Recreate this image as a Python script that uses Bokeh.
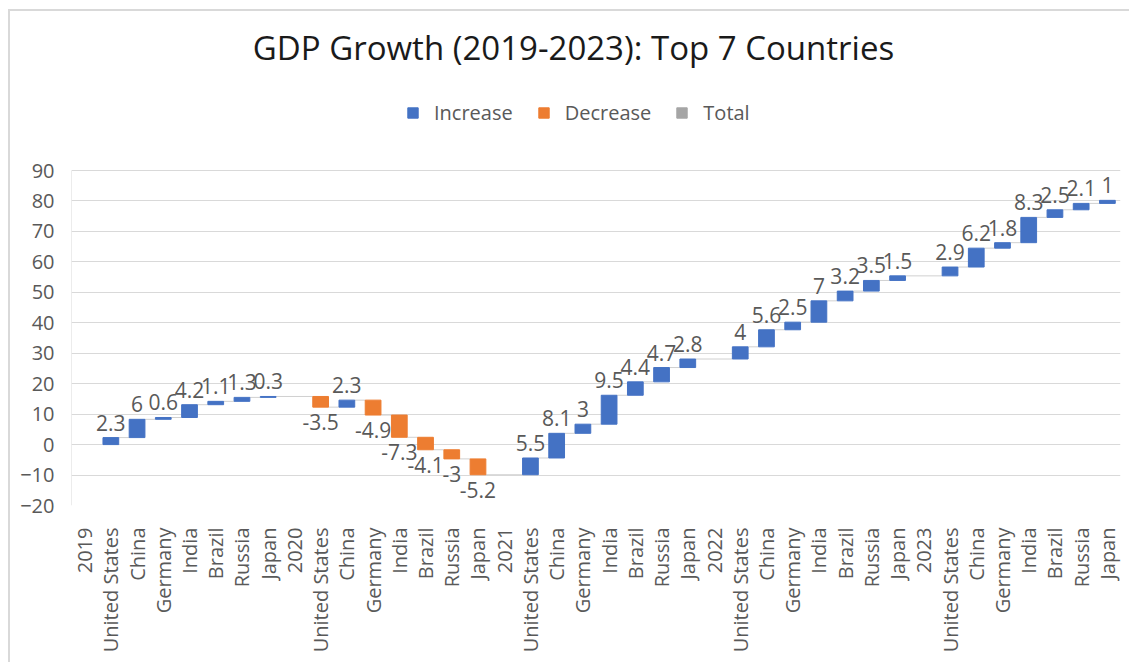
import numpy as np
from bokeh.plotting import figure
from bokeh.models import (ColumnDataSource, Range1d, FixedTicker, Label, Legend, LegendItem)
from bokeh.embed import file_html
from bokeh.resources import INLINE
from bokeh.core.properties import value

# ---------------- data ----------------
years = ["2019", "2020", "2021", "2022", "2023"]
countries = ["United States", "China", "Germany", "India", "Brazil", "Russia", "Japan"]
growth_2019 = [2.3, 6, 0.6, 4.2, 1.1, 1.3, 0.3]
growth_2020 = [-3.5, 2.3, -4.9, -7.3, -4.1, -3, -5.2]
growth_2021 = [5.5, 8.1, 3, 9.5, 4.4, 4.7, 2.8]
growth_2022 = [4, 5.6, 2.5, 7, 3.2, 3.5, 1.5]
growth_2023 = [2.9, 6.2, 1.8, 8.3, 2.5, 2.1, 1]
growth = [growth_2019, growth_2020, growth_2021, growth_2022, growth_2023]
y_ticks = [-20, -10, 0, 10, 20, 30, 40, 50, 60, 70, 80, 90]

BLUE = "#4472C4"
ORANGE = "#ED7D31"
GREY = "#A5A5A5"
TXT = "#595959"
FONT = "Open Sans"

# ---------------- build waterfall ----------------
categories = []
bars = []  # (x, start, end, value)
running = 0.0
for yr, g in zip(years, growth):
    categories.append(yr)
    for c, v in zip(countries, g):
        categories.append(c)
        x = len(categories) - 1
        start = running
        end = running + v
        running = end
        bars.append((x, start, end, v))

BW = 0.6
inc = dict(x=[], bottom=[], top=[], ly=[], txt=[])
dec = dict(x=[], bottom=[], top=[], ly=[], txt=[])
for x, s, e, v in bars:
    d = inc if v >= 0 else dec
    d["x"].append(x)
    d["bottom"].append(min(s, e))
    d["top"].append(max(s, e))
    d["ly"].append(e)
    d["txt"].append(f"{v:g}")

cx0, cx1, cy = [], [], []
for (x, s, e, v), (xn, sn, en, vn) in zip(bars[:-1], bars[1:]):
    cx0.append(x + BW / 2)
    cx1.append(xn - BW / 2)
    cy.append(e)

# ---------------- figure ----------------
Y_MIN, Y_MAX = y_ticks[0], y_ticks[-1]
FRAME_H = 494          # frame height in px (top of canvas to x-axis)
PLOT_H = 335           # px between Y_MIN and Y_MAX
y_top = Y_MIN + (Y_MAX - Y_MIN) * FRAME_H / PLOT_H

p = figure(width=1121, height=653, output_backend="svg", toolbar_location=None,
           x_range=Range1d(-0.5, len(categories) - 0.5), y_range=Range1d(Y_MIN, y_top),
           min_border_left=61, min_border_right=11, min_border_top=0, min_border_bottom=159,
           background_fill_color="white", border_fill_color="white")
p.margin = (9, 0, 0, 8)
p.styles = {"border-top": "2px solid #d9d9d9", "border-left": "2px solid #d9d9d9"}
p.outline_line_color = None

# y-axis line (only over the value range)
p.segment(x0=[-0.5], y0=[Y_MIN], x1=[-0.5], y1=[Y_MAX], line_color="#d9d9d9", line_width=1)

p.segment(x0=cx0, y0=cy, x1=cx1, y1=cy, line_color="#d0d0d0", line_width=1)

src_inc = ColumnDataSource(inc)
src_dec = ColumnDataSource(dec)
r_inc = p.vbar(x="x", bottom="bottom", top="top", width=BW, source=src_inc,
               fill_color=BLUE, line_color=BLUE)
r_dec = p.vbar(x="x", bottom="bottom", top="top", width=BW, source=src_dec,
               fill_color=ORANGE, line_color=ORANGE)
r_tot = p.vbar(x=[0], bottom=[np.nan], top=[np.nan], width=BW,
               fill_color=GREY, line_color=GREY)

p.text(x="x", y="ly", text="txt", source=src_inc, text_align="center",
       text_baseline="bottom", y_offset=-7, text_color=TXT,
       text_font=value(FONT), text_font_size="21px")
p.text(x="x", y="ly", text="txt", source=src_dec, text_align="center",
       text_baseline="top", y_offset=7, text_color=TXT,
       text_font=value(FONT), text_font_size="21px")

# axes
p.xaxis.ticker = FixedTicker(ticks=list(range(len(categories))))
p.xaxis.major_label_overrides = {i: c for i, c in enumerate(categories)}
p.xaxis.major_label_orientation = np.pi / 2
p.xaxis.axis_line_color = None
p.xaxis.major_tick_line_color = None
p.xaxis.minor_tick_line_color = None
p.xaxis.major_label_standoff = 16
p.xaxis.major_label_text_font = FONT
p.xaxis.major_label_text_font_size = "20px"
p.xaxis.major_label_text_color = TXT

p.yaxis.ticker = FixedTicker(ticks=y_ticks)
p.yaxis.axis_line_color = None
p.yaxis.major_tick_line_color = None
p.yaxis.minor_tick_line_color = None
p.yaxis.major_label_standoff = 11
p.yaxis.major_label_text_font = FONT
p.yaxis.major_label_text_font_size = "20px"
p.yaxis.major_label_text_color = TXT

p.xgrid.grid_line_color = None
p.ygrid.grid_line_color = "#d9d9d9"
p.ygrid.grid_line_width = 1

# title
title = Label(x=502, y=458, x_units="screen", y_units="screen",
              text="GDP Growth (2019-2023): Top 7 Countries",
              text_align="center", text_baseline="middle",
              text_font=FONT, text_font_size="33px", text_color="#1a1a1a")
p.add_layout(title)

legend = Legend(items=[LegendItem(label="Increase", renderers=[r_inc]),
                       LegendItem(label="Decrease", renderers=[r_dec]),
                       LegendItem(label="Total", renderers=[r_tot])],
                orientation="horizontal", location=(335, 379),
                glyph_width=13, glyph_height=13, label_standoff=15, spacing=24,
                padding=0, margin=0, border_line_color=None,
                background_fill_alpha=0,
                label_text_font=FONT, label_text_font_size="20px",
                label_text_color=TXT)
p.add_layout(legend, "center")

open("out.html", "w").write(file_html(p, INLINE))
